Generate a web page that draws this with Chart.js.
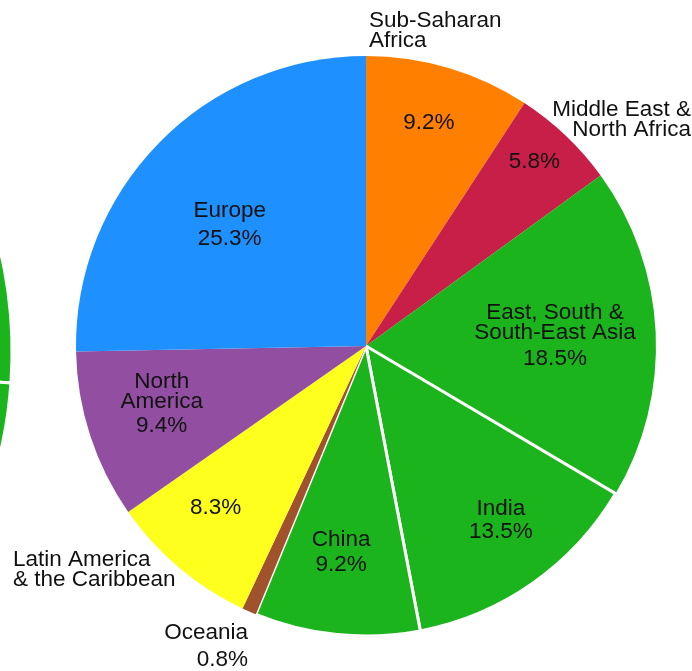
<!DOCTYPE html>
<html><head><meta charset="utf-8">
<script src="https://cdn.jsdelivr.net/npm/chart.js@4/dist/chart.umd.min.js"></script>
<style>
html,body{margin:0;padding:0;background:#fff;overflow:hidden}
#wrap{position:relative;width:692px;height:671px;overflow:hidden;background:#fff}
#side{position:absolute;left:-892px;top:-108px;width:920px;height:920px}
#main{position:absolute;left:0;top:0;width:692px;height:671px}
</style></head><body>
<div id="wrap"><canvas id="side" width="920" height="920"></canvas><canvas id="main" width="692" height="671"></canvas></div>
<script>
// ---- data ----
const regions = ['Sub-Saharan Africa','Middle East & North Africa','East, South & South-East Asia','India','China','Oceania','Latin America & the Caribbean','North America','Europe'];
const shares = [9.2, 5.8, 18.5, 13.5, 9.2, 0.8, 8.3, 9.4, 25.3];
const insideNames = [[], [], ['East, South &','South-East Asia'], ['India'], ['China'], [], [], ['North','America'], ['Europe']];
const outsideNames = [['Sub-Saharan','Africa'], ['Middle East &','North Africa'], [], [], [], ['Oceania'], ['Latin America','& the Caribbean'], [], []];
// neighbouring pie, cropped at the left edge (only its rim shows)
const neighbourShares = [94, 30, 236];

// ---- styles ----
const sliceColors = ['#ff8000','#c71f48','#1cb41c','#1cb41c','#1cb41c','#a0522d','#ffff1e','#924ea0','#1e90ff'];
const sliceBorders = [0,0,0,3,3,0,0,0,0];
const FONT = '22.5px "Liberation Sans", Arial, sans-serif';
const TEXT = '#111';
// inside label placement: fraction of radius along mid-angle, angle tweak (deg), gap before the % line
const inLayout = [
  {r:0.804, da:-0.9, g:25}, {r:0.865, da:-1.4, g:25}, {r:0.653, da:-0.9, g:26}, {r:0.754, da:-3, g:23},
  {r:0.709, da:1.2, g:25}, null, {r:0.757, da:3.1, g:25}, {r:0.73, da:2.8, g:24}, {r:0.634, da:-2.3, g:28}
];
// outside label placement: offset from pie centre
const outLayout = {
  0:{dx:3, dy:-317.5, align:'left'},
  1:{dx:325, dy:-228.5, align:'right'},
  5:{dx:-118, dy:298.7, align:'right', pct:true},
  6:{dx:-353, dy:221.5, align:'left'}
};

function drawBlock(ctx, lines, gaps, cx, cy, align){
  const total = gaps.reduce((a,b)=>a+b,0);
  let y = cy - total/2;
  ctx.textAlign = align;
  lines.forEach((t,k)=>{
    ctx.fillText(t, cx, y + 8);
    if (k < gaps.length) y += gaps[k];
  });
}

const labelPlugin = {
  id:'sliceLabels',
  afterDatasetsDraw(chart){
    const ctx = chart.ctx;
    const meta = chart.getDatasetMeta(0);
    ctx.save();
    ctx.font = FONT; ctx.fillStyle = TEXT; ctx.textBaseline = 'alphabetic';
    meta.data.forEach((arc,i)=>{
      const p = arc.getProps(['x','y','startAngle','endAngle','outerRadius'], true);
      const pct = shares[i].toFixed(1) + '%';
      const lay = inLayout[i];
      if (lay){
        const a = (p.startAngle + p.endAngle)/2 + lay.da*Math.PI/180;
        const cx = p.x + Math.cos(a)*p.outerRadius*lay.r;
        const cy = p.y + Math.sin(a)*p.outerRadius*lay.r;
        const lines = insideNames[i].concat([pct]);
        const gaps = lines.slice(1).map((_,k)=> k === lines.length-2 ? lay.g : 20);
        drawBlock(ctx, lines, gaps, cx, cy, 'center');
      }
      const o = outLayout[i];
      if (o){
        const lines = o.pct ? outsideNames[i].concat([pct]) : outsideNames[i];
        const gaps = lines.slice(1).map((_,k)=> (o.pct && k === lines.length-2) ? 26.5 : 20);
        drawBlock(ctx, lines, gaps, p.x + o.dx, p.y + o.dy, o.align);
      }
    });
    ctx.restore();
  }
};

new Chart(document.getElementById('side'), {
  type:'pie',
  data:{labels:['a','b','c'], datasets:[{data:neighbourShares, backgroundColor:'#1cb41c', borderColor:'#ffffff', borderWidth:3, radius:444}]},
  options:{responsive:false, animation:false, devicePixelRatio:1, layout:{padding:0},
    plugins:{legend:{display:false}, tooltip:{enabled:false}}}
});

new Chart(document.getElementById('main'), {
  type:'pie',
  data:{labels:regions, datasets:[{data:shares, backgroundColor:sliceColors, borderColor:'#ffffff', borderWidth:sliceBorders, radius:290}]},
  options:{responsive:false, animation:false, devicePixelRatio:1,
    layout:{padding:{left:60, right:20, top:31, bottom:10}},
    plugins:{legend:{display:false}, tooltip:{enabled:false}}},
  plugins:[labelPlugin]
});
</script>
</body></html>
